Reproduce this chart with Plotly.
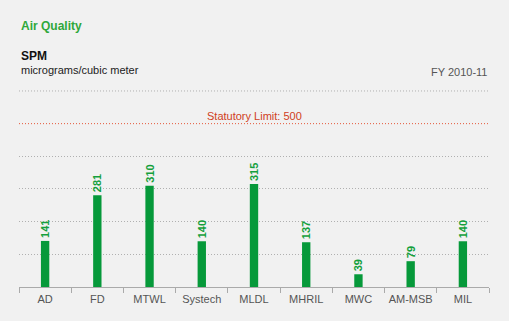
import plotly.graph_objects as go

categories = ["AD", "FD", "MTWL", "Systech", "MLDL", "MHRIL", "MWC", "AM-MSB", "MIL"]
spm_values = [141, 281, 310, 140, 315, 137, 39, 79, 140]
statutory_limit = 500
y_max = 600
grid_values = [100, 200, 300, 400]

font = "Liberation Sans, Arial, sans-serif"
green = "#06993a"
grid_color = "#b0b0b0"
fine_dot = "1px,2px"

fig = go.Figure()
fig.add_trace(go.Bar(
    x=categories, y=spm_values, width=0.16,
    marker=dict(color=green, line=dict(width=0)),
    text=[str(v) for v in spm_values], textposition="outside", textangle=-90,
    constraintext="none",
    textfont=dict(family=font, size=11, color="#14a03c", weight="bold"),
    cliponaxis=False, hoverinfo="skip",
))

# top gridline at the range maximum
fig.add_shape(type="line", xref="paper", yref="y", x0=0, x1=1, y0=y_max, y1=y_max,
              line=dict(color=grid_color, width=1, dash=fine_dot), layer="between")

fig.add_shape(type="line", xref="paper", yref="y", x0=0, x1=1,
              y0=statutory_limit, y1=statutory_limit,
              line=dict(color="#e5583a", width=1, dash=fine_dot), layer="above")
fig.add_annotation(xref="paper", yref="y", x=0.5, y=statutory_limit,
                   text=f"Statutory Limit: {statutory_limit}", showarrow=False,
                   yanchor="bottom", yshift=0,
                   font=dict(family=font, size=11, color="#d0401c"))

fig.add_annotation(xref="paper", yref="paper", x=0, y=1, xanchor="left", yanchor="middle",
                   yshift=91-27, text="<b>Air Quality</b>", showarrow=False,
                   font=dict(family=font, size=12, color="#2fa83a"))
fig.add_annotation(xref="paper", yref="paper", x=0, y=1, xanchor="left", yanchor="middle",
                   yshift=91-57, text="<b>SPM</b>", showarrow=False,
                   font=dict(family=font, size=12, color="#111111"))
fig.add_annotation(xref="paper", yref="paper", x=0, y=1, xanchor="left", yanchor="middle",
                   yshift=91-71, text="micrograms/cubic meter", showarrow=False,
                   font=dict(family=font, size=11, color="#222222"))
fig.add_annotation(xref="paper", yref="paper", x=1, y=1, xanchor="right", yanchor="middle",
                   yshift=91-73, text="FY 2010-11", showarrow=False,
                   font=dict(family=font, size=11, color="#555555"))

fig.update_layout(
    width=509, height=321,
    margin=dict(l=19, r=20, t=90, b=34),
    paper_bgcolor="#f1f1f1", plot_bgcolor="rgba(0,0,0,0)",
    showlegend=False,
    xaxis=dict(showgrid=False, showline=True, linecolor="#aaaaaa", linewidth=1,
               ticks="outside", tickson="boundaries", ticklen=5, tickcolor="#aaaaaa",
               tickangle=0, automargin=False, ticklabelstandoff=2,
               tickfont=dict(family=font, size=11, color="#555555")),
    yaxis=dict(range=[0, y_max + 3], tickmode="array", tickvals=grid_values,
               showgrid=True, gridcolor=grid_color,
               griddash=fine_dot, gridwidth=1, showticklabels=False, zeroline=False,
               showline=False, fixedrange=True, automargin=False),
)

fig.write_html("out.html")
